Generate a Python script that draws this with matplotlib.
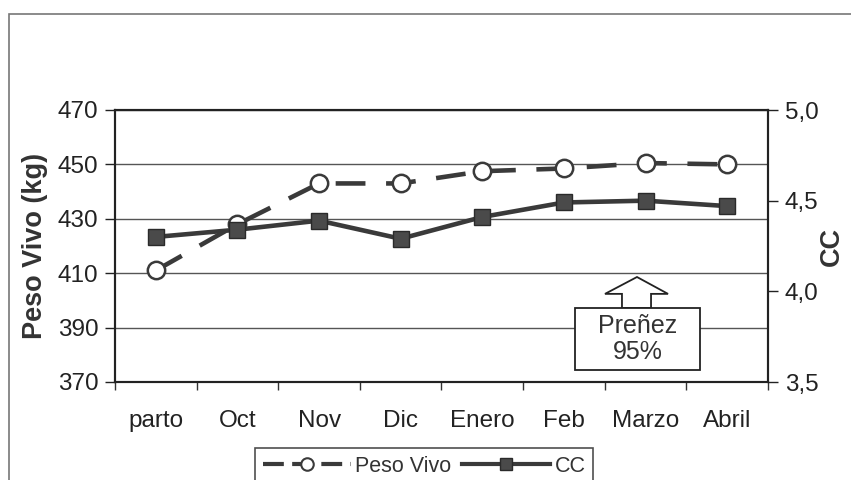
import matplotlib
matplotlib.use("Agg")
import matplotlib.pyplot as plt
from matplotlib.patches import Rectangle, Polygon
from matplotlib.lines import Line2D
from matplotlib.ticker import FuncFormatter
import numpy as np

plt.rcParams['font.family'] = ['Liberation Sans', 'DejaVu Sans']

categories = ["parto", "Oct", "Nov", "Dic", "Enero", "Feb", "Marzo", "Abril"]
peso_vivo = [411, 428, 443, 443, 447.5, 448.5, 450.5, 450]
cc = [4.30, 4.34, 4.39, 4.29, 4.41, 4.49, 4.50, 4.47]
left_ticks = [370, 390, 410, 430, 450, 470]
right_ticks = [3.5, 4.0, 4.5, 5.0]

line_col = "#3a3a3a"

fig = plt.figure(figsize=(8.51, 4.8), dpi=100)
ax = fig.add_axes([115/851, 1-382/480, (768-115)/851, (382-110)/480])
ax2 = ax.twinx()

x = np.arange(len(categories))

l1, = ax.plot(x, peso_vivo, color=line_col, lw=3.3, dashes=(6.5, 4.5),
              marker='o', ms=12.5, mfc='white', mec=line_col, mew=1.8, zorder=5)
l2, = ax2.plot(x, cc, color=line_col, lw=3.3, marker='s', ms=11,
               mfc='#4a4a4a', mec='#2a2a2a', zorder=5)

ax.set_xlim(-0.5, len(categories) - 0.5)
ax.set_ylim(370, 470)
ax2.set_ylim(3.5, 5.0)
ax.set_yticks(left_ticks)
ax2.set_yticks(right_ticks)
ax2.yaxis.set_major_formatter(FuncFormatter(lambda v, p: f"{v:.1f}".replace('.', ',')))

ax.set_xticks(x)
ax.set_xticklabels(categories)
ax.set_xticks(np.arange(-0.5, len(categories), 1), minor=True)
ax.tick_params(axis='x', which='major', length=0, pad=20, labelsize=17.5, colors='#222222')
ax.tick_params(axis='x', which='minor', length=6, direction='out', width=1, color='#333333')
ax.tick_params(axis='y', length=7, width=1, labelsize=17.5, colors='#222222', pad=5)
ax2.tick_params(axis='y', length=7, width=1, labelsize=17.5, colors='#222222', pad=5)

ax.yaxis.grid(True, color='#555555', lw=1.0)
ax.set_axisbelow(True)
for sp in list(ax.spines.values()) + list(ax2.spines.values()):
    sp.set_color('#222222')
    sp.set_linewidth(1.5)

ax.set_ylabel("Peso Vivo (kg)", fontsize=19.5, fontweight='bold', color='#333333')
ax.yaxis.set_label_coords(-0.103, 0.5)
ax2.set_ylabel("CC", fontsize=19.5, fontweight='bold', color='#333333')
ax2.yaxis.set_label_coords(1.078, 0.5)

# Annotation: arrow and box "Preñez 95%"
arrow = Polygon([(5.895, 408.6), (6.275, 402.4), (6.067, 402.4), (6.067, 397.2),
                 (5.711, 397.2), (5.711, 402.4), (5.503, 402.4)],
                closed=True, facecolor='white', edgecolor='#222222', lw=1.3, zorder=6)
ax.add_patch(arrow)
box = Rectangle((5.136, 374.4), 6.667 - 5.136, 397.2 - 374.4,
                facecolor='white', edgecolor='#222222', lw=1.3, zorder=6)
ax.add_patch(box)
ax.text(5.9, 385.8, "Preñez\n95%", ha='center', va='center', fontsize=18,
        color='#333333', zorder=7, linespacing=1.1)

# outer frame
frame = Rectangle((9/851, -0.2), 1.2, 1 - 14/480 + 0.2, transform=fig.transFigure,
                  fill=False, edgecolor='#777777', lw=1.2, clip_on=False)
fig.patches.append(frame)

# legend
h1 = Line2D([], [], color=line_col, lw=3, dashes=(5, 2), marker='o', ms=9,
            mfc='white', mec=line_col, mew=1.5)
h2 = Line2D([], [], color=line_col, lw=3, marker='s', ms=9, mfc='#4a4a4a', mec='#2a2a2a')
leg = fig.legend([h1, h2], ["Peso Vivo", "CC"], loc='upper left',
                 bbox_to_anchor=(255/851, 1 - 448/480), bbox_transform=fig.transFigure,
                 ncol=2, fontsize=15.5, frameon=True, fancybox=False, edgecolor='#222222',
                 handlelength=4.1, handletextpad=0.2, columnspacing=0.5,
                 borderpad=0.35, borderaxespad=0)
leg.get_frame().set_linewidth(1.2)
for t in leg.get_texts():
    t.set_color('#333333')

fig.savefig("out.png", dpi=100)
